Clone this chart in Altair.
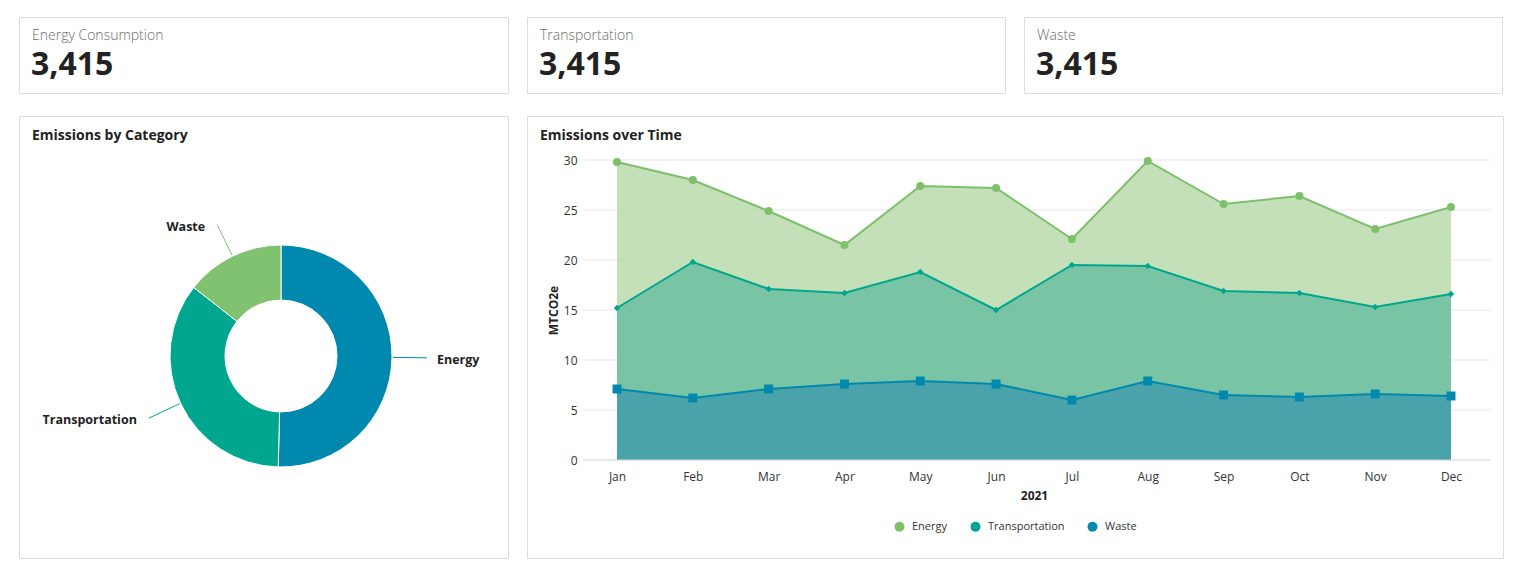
import altair as alt
import pandas as pd

FONT = "Open Sans"

# ---- KPI cards ----
kpi_labels = ["Energy Consumption", "Transportation", "Waste"]
kpi_values = [3415, 3415, 3415]
kpi_widths = [489, 478, 478]

# ---- Donut ----
donut_categories = ["Energy", "Transportation", "Waste"]
donut_values = [50.4, 35.2, 14.4]
donut_order = [0, 1, 2]
donut_colors = ["#0088AE", "#00A68D", "#80C26F"]

# ---- Area chart ----
months = ["Jan", "Feb", "Mar", "Apr", "May", "Jun", "Jul", "Aug", "Sep", "Oct", "Nov", "Dec"]
series_names = ["Energy", "Transportation", "Waste"]
energy = [14.6, 8.2, 7.8, 4.8, 8.6, 12.2, 2.6, 10.5, 8.7, 9.7, 7.8, 8.7]
transportation = [8.1, 13.6, 10.0, 9.1, 10.9, 7.4, 13.5, 11.5, 10.4, 10.4, 8.7, 10.2]
waste = [7.1, 6.2, 7.1, 7.6, 7.9, 7.6, 6.0, 7.9, 6.5, 6.3, 6.6, 6.4]
stack_order = {"Waste": 0, "Transportation": 1, "Energy": 2}
line_colors = ["#7DC06B", "#00A68D", "#0088AE"]
fill_colors = ["#B8DBAD", "#60BA95", "#2A939B"]
y_ticks = [0, 5, 10, 15, 20, 25, 30]
grid_ticks = [5, 10, 15, 20, 25, 30]
base_tick = [0]


def kpi_card(label, value, width):
    d = pd.DataFrame({"label": [label], "value": [value]})
    base = alt.Chart(d)
    lab = base.mark_text(align="left", baseline="middle", font=FONT, fontSize=14,
                         fontWeight=300, color="#6b6b6b").encode(
        x=alt.value(13), y=alt.value(19), text="label:N")
    val = base.mark_text(align="left", baseline="middle", font=FONT, fontSize=32,
                         fontWeight="bold", color="#222222").encode(
        x=alt.value(12), y=alt.value(48), text=alt.Text("value:Q", format=","))
    return alt.layer(lab, val).properties(width=width, height=76)


cards = alt.hconcat(*[kpi_card(l, v, w) for l, v, w in zip(kpi_labels, kpi_values, kpi_widths)],
                    spacing=17)

# ---- donut panel ----
CX, CY = 262, 240
donut_df = pd.DataFrame({"category": donut_categories, "value": donut_values, "order": donut_order})
color_scale = alt.Scale(domain=donut_categories, range=donut_colors)

dbase = alt.Chart(donut_df)
arcs = dbase.mark_arc(innerRadius=56, outerRadius=111, stroke="white", strokeWidth=1).encode(
    theta=alt.Theta("value:Q", stack=True),
    order=alt.Order("order:Q"),
    color=alt.Color("category:N", scale=color_scale, legend=None),
    x=alt.value(CX), y=alt.value(CY),
)

geo = dbase.transform_joinaggregate(total="sum(value)").transform_window(
    cum="sum(value)", sort=[alt.SortField("order")], frame=[None, 0]
).transform_calculate(
    mid="(datum.cum - datum.value/2) / datum.total * 2 * PI",
).transform_calculate(
    x1=f"{CX} + 112*sin(datum.mid)", y1=f"{CY} - 112*cos(datum.mid)",
    x2=f"{CX} + 146*sin(datum.mid)", y2=f"{CY} - 146*cos(datum.mid)",
    side="sin(datum.mid) > 0 ? 'right' : 'left'",
).transform_calculate(
    tx="datum.x2 + (datum.side == 'right' ? 10 : -12)", ty="datum.y2 + 2",
)
leaders = geo.mark_rule(strokeWidth=1).encode(
    x=alt.X("x1:Q", scale=None), y=alt.Y("y1:Q", scale=None),
    x2="x2:Q", y2="y2:Q",
    color=alt.Color("category:N", scale=color_scale, legend=None),
)
lab_r = geo.transform_filter("datum.side == 'right'").mark_text(
    align="left", baseline="middle", font=FONT, fontSize=12.5, fontWeight="bold", color="#222222").encode(
    x=alt.X("tx:Q", scale=None), y=alt.Y("ty:Q", scale=None), text="category:N")
lab_l = geo.transform_filter("datum.side == 'left'").mark_text(
    align="right", baseline="middle", font=FONT, fontSize=12.5, fontWeight="bold", color="#222222").encode(
    x=alt.X("tx:Q", scale=None), y=alt.Y("ty:Q", scale=None), text="category:N")
donut_title = alt.Chart(pd.DataFrame({"t": ["Emissions by Category"]})).mark_text(
    align="left", baseline="middle", font=FONT, fontSize=14, fontWeight="bold", color="#222222").encode(
    x=alt.value(13), y=alt.value(20), text="t:N")

donut_panel = alt.layer(arcs, leaders, lab_r, lab_l, donut_title).properties(width=489, height=442)

# ---- area panel ----
rows = []
for name, vals in zip(series_names, [energy, transportation, waste]):
    for m, v in zip(months, vals):
        rows.append({"month": m, "series": name, "value": v, "order": stack_order[name]})
area_df = pd.DataFrame(rows)

x_enc = alt.X("month:O", scale=alt.Scale(type="point", domain=months, range=[90, 924], padding=0),
              axis=alt.Axis(orient="bottom", offset=-98, title="2021", ticks=False, grid=False,
                            domain=False, labelPadding=11, labelAngle=0,
                            labelFont=FONT, labelFontSize=12, labelColor="#333333",
                            titleFont=FONT, titleFontSize=12, titleFontWeight="bold",
                            titleColor="#222222", titlePadding=8))
y_scale = alt.Scale(domain=[0, 30], range=[344, 44], nice=False)
y_axis = alt.Axis(orient="left", offset=-56, values=y_ticks, domain=False, ticks=False, grid=False,
                  labelPadding=6, labelFont=FONT, labelFontSize=12, labelColor="#333333",
                  title="MTCO2e", titleFont=FONT, titleFontSize=12, titleFontWeight="bold",
                  titleColor="#222222", titleX=-30, titleBaseline="middle")

abase = alt.Chart(area_df).transform_stack(
    stack="value", groupby=["month"], as_=["y0", "y1"], sort=[alt.SortField("order", order="ascending")])

grid = alt.Chart(pd.DataFrame({"v": grid_ticks})).mark_rule(color="#e6e6e6", strokeWidth=1).encode(
    y=alt.Y("v:Q", scale=y_scale, axis=y_axis), x=alt.value(56), x2=alt.value(963))

areas = abase.mark_area(opacity=0.85).encode(
    x=x_enc,
    y=alt.Y("y1:Q", scale=y_scale, axis=y_axis),
    y2="y0:Q",
    fill=alt.Fill("series:N", scale=alt.Scale(domain=series_names, range=fill_colors), legend=None),
)
baseline = alt.Chart(pd.DataFrame({"v": base_tick})).mark_rule(color="#cfcfcf", strokeWidth=1).encode(
    y=alt.Y("v:Q", scale=y_scale, axis=y_axis), x=alt.value(56), x2=alt.value(963))

line_scale = alt.Scale(domain=series_names, range=line_colors)
legend = alt.Legend(orient="none", legendX=367, legendY=405, direction="horizontal", title=None,
                    symbolType="circle", symbolSize=100, symbolStrokeWidth=0, symbolOpacity=1,
                    labelFont=FONT, labelFontSize=11, labelColor="#333333",
                    columnPadding=22, labelOffset=7, padding=0)
col = alt.Color("series:N", scale=line_scale, legend=legend)
lines = abase.mark_line(strokeWidth=2).encode(
    x=x_enc, y=alt.Y("y1:Q", scale=y_scale, axis=y_axis), color=col,
)
pts_e = abase.transform_filter("datum.series == 'Energy'").mark_point(
    shape="circle", filled=True, size=64, opacity=1).encode(
    x=x_enc, y=alt.Y("y1:Q", scale=y_scale, axis=y_axis), color=col)
pts_t = abase.transform_filter("datum.series == 'Transportation'").mark_point(
    shape="diamond", filled=True, size=40, opacity=1).encode(
    x=x_enc, y=alt.Y("y1:Q", scale=y_scale, axis=y_axis), color=col)
pts_w = abase.transform_filter("datum.series == 'Waste'").mark_point(
    shape="square", filled=True, size=80, opacity=1).encode(
    x=x_enc, y=alt.Y("y1:Q", scale=y_scale, axis=y_axis), color=col)
area_title = alt.Chart(pd.DataFrame({"t": ["Emissions over Time"]})).mark_text(
    align="left", baseline="middle", font=FONT, fontSize=14, fontWeight="bold", color="#222222").encode(
    x=alt.value(13), y=alt.value(20), text="t:N")

area_panel = alt.layer(grid, areas, baseline, lines, pts_e, pts_t, pts_w, area_title).properties(
    width=976, height=442)

bottom = alt.hconcat(donut_panel, area_panel, spacing=17).resolve_scale(color="independent")

chart = alt.vconcat(cards, bottom, spacing=21).properties(
    padding={"left": 18, "top": 16, "right": 5, "bottom": 5},
    background="white",
).configure_view(stroke="#dcdcdc", strokeWidth=1)

chart.save("out.html", embed_options={"renderer": "svg", "actions": False})
